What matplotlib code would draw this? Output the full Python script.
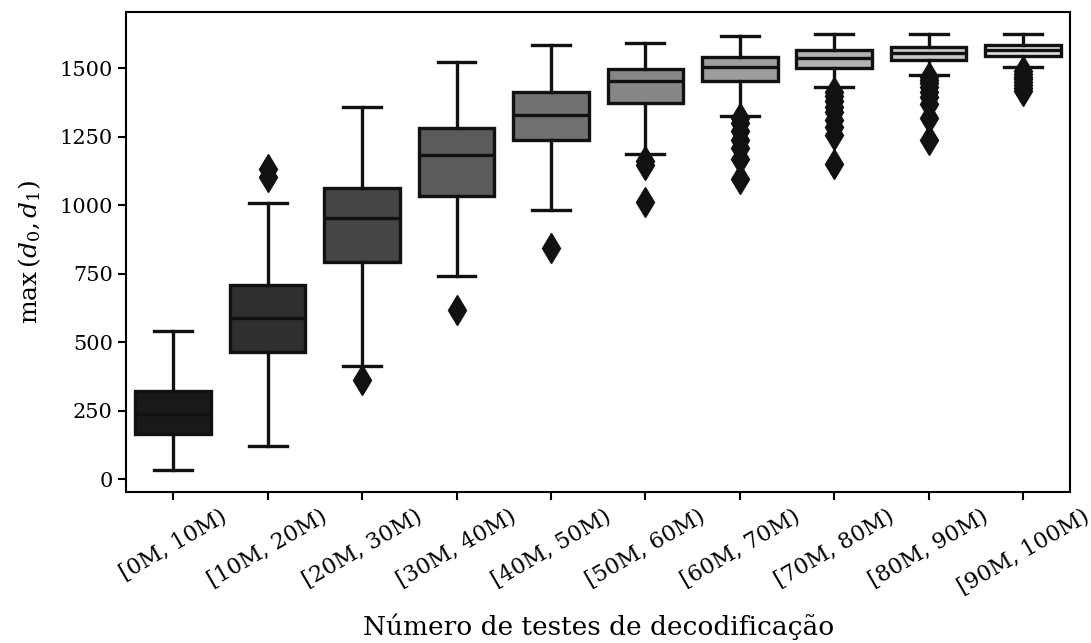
import numpy as np
import matplotlib
matplotlib.use("Agg")
import matplotlib.pyplot as plt

# summary statistics per bucket of decoding tests
categories = ["[0M, 10M)", "[10M, 20M)", "[20M, 30M)", "[30M, 40M)", "[40M, 50M)",
              "[50M, 60M)", "[60M, 70M)", "[70M, 80M)", "[80M, 90M)", "[90M, 100M)"]
whislo = [34, 122, 413, 741, 984, 1188, 1327, 1431, 1477, 1503]
q1 = [164, 465, 795, 1033, 1239, 1374, 1455, 1500, 1530, 1544]
med = [240, 590, 953, 1184, 1330, 1453, 1503, 1538, 1557, 1568]
q3 = [323, 708, 1063, 1281, 1412, 1498, 1542, 1566, 1576, 1585]
whishi = [540, 1009, 1357, 1522, 1585, 1592, 1617, 1625, 1625, 1625]
fliers = [
    [],
    [1133, 1103],
    [362],
    [619],
    [845],
    [1160, 1148, 1012],
    [1320, 1300, 1270, 1240, 1210, 1170, 1095],
    [1415, 1400, 1380, 1360, 1340, 1310, 1285, 1255, 1152],
    [1470, 1458, 1445, 1430, 1415, 1395, 1370, 1320, 1240],
    [1490, 1480, 1470, 1460, 1450, 1440, 1428, 1418],
]

plt.rcParams["font.family"] = "serif"
plt.rcParams["font.serif"] = ["DejaVu Serif"]
plt.rcParams["mathtext.fontset"] = "dejavuserif"
plt.rcParams["font.size"] = 18

edge = "#111111"
lw = 2.4

fig, ax = plt.subplots(figsize=(10.91, 6.43), dpi=100)
fig.subplots_adjust(left=0.1155, right=0.981, top=0.981, bottom=0.235)

stats = []
for i, name in enumerate(categories):
    stats.append({"label": name, "whislo": whislo[i], "q1": q1[i], "med": med[i],
                  "q3": q3[i], "whishi": whishi[i], "fliers": fliers[i]})

fills = plt.cm.gray(np.linspace(0.1, 0.87, len(categories)))
bp = ax.bxp(stats, positions=np.arange(len(categories)), widths=0.8,
            patch_artist=True, showfliers=True,
            boxprops=dict(edgecolor=edge, linewidth=lw),
            medianprops=dict(color=edge, linewidth=lw),
            whiskerprops=dict(color=edge, linewidth=lw),
            capprops=dict(color=edge, linewidth=lw),
            flierprops=dict(marker="d", markersize=15, markerfacecolor=edge,
                            markeredgecolor=edge, markeredgewidth=1.0))
for box, c in zip(bp["boxes"], fills):
    box.set_facecolor(c)

ax.set_xlim(-0.5, len(categories) - 0.5)
ax.set_yticks([0, 250, 500, 750, 1000, 1250, 1500])
ax.set_xticks(np.arange(len(categories)), categories, rotation=30, ha="center")
ax.tick_params(axis="x", labelsize=16)
ax.tick_params(axis="y", labelsize=15)
ax.set_ylabel(r"$\max\,(d_0, d_1)$", labelpad=12)
ax.set_xlabel("Número de testes de decodificação", fontsize=19, labelpad=11)
ax.tick_params(width=1.5, length=6)
for sp in ax.spines.values():
    sp.set_linewidth(1.5)

plt.savefig("out.png")
